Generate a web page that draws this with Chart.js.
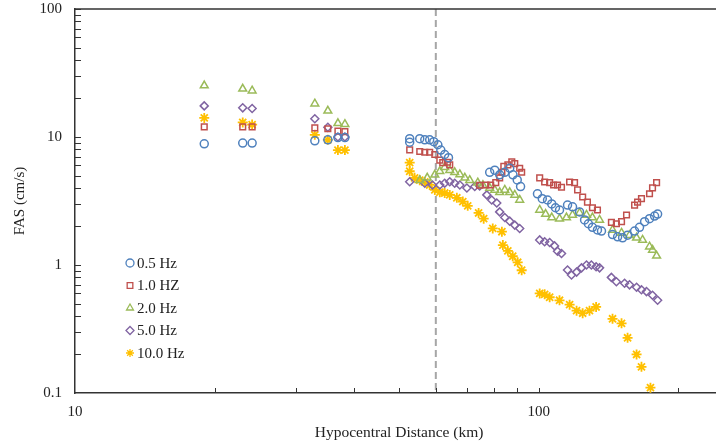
<!DOCTYPE html>
<html>
<head>
<meta charset="utf-8">
<script src="https://cdn.jsdelivr.net/npm/chart.js@4.4.0/dist/chart.umd.min.js"></script>
<style>
  html, body { margin: 0; padding: 0; background: #fff; overflow: hidden; }
  #wrap { width: 730px; height: 445px; }
</style>
</head>
<body>
<div id="wrap"><canvas id="chart"></canvas></div>
<script>
const seriesNames = ["0.5 Hz", "1.0 HZ", "2.0 Hz", "5.0 Hz", "10.0 Hz"];
const seriesColors = ["#4F81BD", "#C0504D", "#9BBB59", "#8064A2", "#FFC000"];
const seriesStyles = ["circle", "rect", "triangle", "rectRot", "star"];

const dist05 = [19.0, 23.0, 24.1, 32.9, 35.1, 36.9, 38.2, 52.7, 52.7, 55.4, 56.8, 58.2, 59.4, 60.6, 61.5, 62.7, 63.9, 78.4, 80.4, 82.4, 84.5, 86.6, 88.0, 89.9, 91.4, 99.4, 101.8, 104.5, 106.7, 108.7, 110.9, 115.4, 118.3, 122.5, 125.6, 128.0, 130.6, 133.9, 136.6, 144.3, 148.0, 151.7, 155.5, 161.0, 165.0, 169.2, 173.4, 177.8, 180.5];
const fas05 = [8.85, 8.97, 8.97, 9.33, 9.5, 9.9, 9.9, 9.7, 9.1, 9.7, 9.5, 9.5, 9.2, 8.7, 7.9, 7.3, 6.9, 5.3, 5.5, 5.06, 5.3, 5.7, 5.06, 4.62, 4.1, 3.6, 3.3, 3.22, 3.0, 2.8, 2.69, 2.94, 2.85, 2.6, 2.25, 2.1, 1.97, 1.88, 1.84, 1.73, 1.66, 1.63, 1.71, 1.84, 1.97, 2.18, 2.3, 2.41, 2.5];

const dist10 = [19.0, 23.0, 24.1, 32.9, 35.1, 36.9, 38.2, 52.7, 55.4, 56.8, 58.2, 59.7, 61.2, 62.1, 63.6, 64.3, 74.6, 76.9, 78.8, 80.8, 82.4, 83.3, 84.1, 85.8, 87.5, 88.8, 91.0, 91.9, 100.5, 103.0, 105.6, 107.7, 109.8, 112.0, 116.6, 119.5, 121.3, 124.4, 127.4, 130.6, 133.9, 143.5, 147.1, 150.9, 154.7, 161.0, 163.4, 166.6, 173.4, 176.0, 179.6];
const fas10 = [12.0, 12.0, 12.0, 11.8, 11.6, 11.1, 11.0, 7.94, 7.7, 7.6, 7.6, 7.3, 6.6, 6.3, 6.35, 6.06, 4.2, 4.22, 4.22, 4.4, 4.8, 5.3, 5.9, 6.06, 6.4, 6.2, 5.7, 5.3, 4.8, 4.45, 4.4, 4.22, 4.22, 4.05, 4.45, 4.4, 3.86, 3.4, 3.1, 2.8, 2.69, 2.15, 2.1, 2.18, 2.46, 2.94, 3.1, 3.3, 3.6, 4.0, 4.4];

const dist20 = [19.0, 23.0, 24.1, 32.9, 35.1, 36.9, 38.2, 55.4, 57.5, 59.7, 61.2, 62.7, 64.3, 65.9, 67.6, 69.3, 71.0, 73.9, 75.8, 78.4, 80.4, 82.4, 84.5, 86.6, 88.8, 91.0, 100.5, 103.5, 106.7, 110.9, 114.8, 118.3, 122.5, 126.8, 130.6, 135.3, 144.3, 150.9, 157.0, 162.6, 167.5, 173.4, 176.0, 179.6];
const fas20 = [25.2, 23.8, 23.0, 18.2, 16.0, 12.8, 12.6, 4.6, 4.8, 5.06, 5.4, 5.8, 5.5, 5.3, 5.1, 4.8, 4.6, 4.4, 4.2, 4.0, 3.86, 3.7, 3.86, 3.7, 3.53, 3.22, 2.69, 2.5, 2.35, 2.3, 2.35, 2.46, 2.55, 2.46, 2.35, 2.25, 1.88, 1.78, 1.71, 1.63, 1.57, 1.39, 1.31, 1.18];

const dist50 = [19.0, 23.0, 24.1, 32.9, 35.1, 36.9, 38.2, 52.7, 56.8, 59.0, 61.2, 62.7, 64.3, 65.9, 67.6, 70.0, 72.8, 74.6, 77.3, 79.2, 81.2, 82.4, 84.5, 86.6, 88.8, 91.0, 100.5, 103.0, 105.6, 108.2, 109.8, 112.0, 115.4, 117.7, 120.7, 123.7, 126.8, 129.9, 133.0, 135.3, 143.5, 147.1, 153.2, 157.0, 162.6, 166.6, 170.8, 176.0, 180.5];
const fas50 = [17.5, 16.9, 16.7, 13.9, 11.9, 10.0, 10.0, 4.47, 4.35, 4.22, 4.22, 4.35, 4.47, 4.35, 4.22, 4.0, 4.1, 4.15, 3.53, 3.22, 3.05, 2.6, 2.35, 2.2, 2.05, 1.93, 1.57, 1.52, 1.50, 1.41, 1.28, 1.23, 0.914, 0.835, 0.88, 0.95, 1.0, 1.0, 0.97, 0.95, 0.8, 0.74, 0.72, 0.70, 0.67, 0.64, 0.62, 0.58, 0.53];

const dist100 = [19.0, 23.0, 24.1, 32.9, 35.1, 36.9, 38.2, 52.7, 52.7, 54.0, 55.4, 56.8, 58.2, 59.7, 61.2, 62.7, 64.3, 66.6, 68.6, 70.3, 74.2, 76.1, 79.6, 83.3, 83.7, 85.8, 87.9, 90.1, 91.9, 100.5, 103.0, 105.6, 110.9, 116.6, 120.7, 124.4, 128.7, 133.0, 144.3, 150.9, 155.5, 162.6, 166.6, 174.2];
const fas100 = [14.1, 13.0, 12.5, 10.4, 9.5, 7.9, 7.9, 6.3, 5.4, 4.8, 4.6, 4.45, 4.22, 3.86, 3.7, 3.65, 3.53, 3.35, 3.13, 2.9, 2.55, 2.3, 1.93, 1.82, 1.43, 1.29, 1.17, 1.05, 0.91, 0.6, 0.59, 0.56, 0.53, 0.49, 0.44, 0.42, 0.44, 0.47, 0.38, 0.35, 0.27, 0.2, 0.16, 0.11];

const xTickLabels = [10, 100];
const yTickLabels = [0.1, 1, 10, 100];
const cutoffDistance = 60;

const allDist = [dist05, dist10, dist20, dist50, dist100];
const allFas = [fas05, fas10, fas20, fas50, fas100];

const FONT = "'Liberation Serif', 'Times New Roman', serif";

function pairUp(xs, ys) {
  return xs.map((x, i) => ({ x: x, y: ys[i] }));
}

const datasets = seriesNames.map((name, i) => ({
  label: name,
  data: pairUp(allDist[i], allFas[i]),
  pointStyle: seriesStyles[i],
  borderColor: seriesColors[i],
  backgroundColor: "rgba(0,0,0,0)",
  borderWidth: i === 4 ? 1.8 : 1.5,
  pointRadius: i === 4 ? 5 : (i === 2 ? 4.5 : 4),
  pointHoverRadius: 4,
  showLine: false
}));

function isPow10(v) {
  const l = Math.log10(v);
  return Math.abs(l - Math.round(l)) < 1e-6;
}

// axis frame, inward ticks, cutoff line and legend
const extras = {
  id: "extras",
  beforeDatasetsDraw(chart) {
    const { ctx, chartArea } = chart;
    const xs = chart.scales.x;
    const px = xs.getPixelForValue(cutoffDistance);
    ctx.save();
    ctx.strokeStyle = "#A6A6A6";
    ctx.lineWidth = 2;
    ctx.setLineDash([7, 4]);
    ctx.beginPath();
    ctx.moveTo(px, chartArea.top);
    ctx.lineTo(px, chartArea.bottom);
    ctx.stroke();
    ctx.restore();
  },
  afterDraw(chart) {
    const { ctx, chartArea } = chart;
    const xs = chart.scales.x;
    const ys = chart.scales.y;
    ctx.save();
    ctx.strokeStyle = "#333";
    ctx.lineWidth = 1.5;
    ctx.beginPath();
    ctx.moveTo(chartArea.left, chartArea.top);
    ctx.lineTo(chartArea.right + 20, chartArea.top);
    ctx.moveTo(chartArea.right, chartArea.bottom);
    ctx.lineTo(chartArea.right + 20, chartArea.bottom);
    ctx.stroke();

    ctx.lineWidth = 1;
    ctx.beginPath();
    for (let d = 10; d <= 100; d *= 10) {
      for (let m = 1; m <= 9; m++) {
        const v = d * m;
        if (v <= 10 || v > xs.max) continue;
        const p = Math.round(xs.getPixelForValue(v)) + 0.5;
        ctx.moveTo(p, chartArea.bottom);
        ctx.lineTo(p, chartArea.bottom - 5);
      }
    }
    for (let d = 0.1; d < 100; d *= 10) {
      for (let m = 1; m <= 9; m++) {
        const v = d * m;
        if (v <= 0.1 + 1e-9) continue;
        const p = Math.round(ys.getPixelForValue(v)) + 0.5;
        ctx.moveTo(chartArea.left, p);
        ctx.lineTo(chartArea.left + 6, p);
      }
    }
    const pTop = Math.round(ys.getPixelForValue(100)) + 0.5;
    ctx.moveTo(chartArea.left, pTop);
    ctx.lineTo(chartArea.left + 6, pTop);
    ctx.stroke();

    // legend
    const lx = 130;
    const ly = 263;
    const step = 22.5;
    ctx.font = "15px " + FONT;
    ctx.textBaseline = "middle";
    ctx.textAlign = "left";
    chart.data.datasets.forEach((ds, i) => {
      const y = ly + i * step;
      ctx.strokeStyle = ds.borderColor;
      ctx.fillStyle = "rgba(0,0,0,0)";
      ctx.lineWidth = 1.3;
      Chart.helpers.drawPoint(ctx, { pointStyle: ds.pointStyle, radius: 4, rotation: 0, borderWidth: 1.3 }, lx, y);
      ctx.fillStyle = "#222";
      ctx.fillText(ds.label, lx + 7, y + 1);
    });
    ctx.restore();
  }
};

new Chart(document.getElementById("chart"), {
  type: "scatter",
  data: { datasets: datasets },
  options: {
    responsive: true,
    maintainAspectRatio: false,
    animation: false,
    layout: { padding: { top: 9, right: 0, left: 0, bottom: 0 } },
    plugins: {
      legend: { display: false },
      tooltip: { enabled: false }
    },
    scales: {
      x: {
        type: "logarithmic",
        min: 10,
        max: 250,
        border: { display: true, color: "#333", width: 1.5 },
        grid: { drawOnChartArea: false, drawTicks: false },
        ticks: {
          autoSkip: false,
          maxRotation: 0,
          padding: 10,
          color: "#222",
          font: { family: FONT, size: 15 },
          callback: v => (xTickLabels.includes(v) ? String(v) : "")
        },
        title: {
          display: true,
          text: "Hypocentral Distance (km)",
          color: "#222",
          font: { family: FONT, size: 15.5 },
          padding: { top: 0, bottom: 3 }
        },
        afterFit: s => {
          s.height = 52;
          s.paddingLeft = 0;
          s.paddingRight = 0;
        }
      },
      y: {
        type: "logarithmic",
        min: 0.1,
        max: 100,
        border: { display: true, color: "#333", width: 1.5 },
        grid: { drawOnChartArea: false, drawTicks: false },
        ticks: {
          autoSkip: false,
          padding: 13,
          color: "#222",
          font: { family: FONT, size: 15 },
          callback: v => {
            if (!isPow10(v)) return "";
            const hit = yTickLabels.find(t => Math.abs(t - v) / t < 1e-6);
            return hit === undefined ? "" : String(hit);
          }
        },
        title: {
          display: true,
          text: "FAS (cm/s)",
          color: "#222",
          font: { family: FONT, size: 15 },
          padding: { top: 11, bottom: 0 }
        },
        afterFit: s => {
          s.width = 75;
          s.paddingTop = 0;
          s.paddingBottom = 0;
        }
      }
    }
  },
  plugins: [extras]
});
</script>
</body>
</html>
